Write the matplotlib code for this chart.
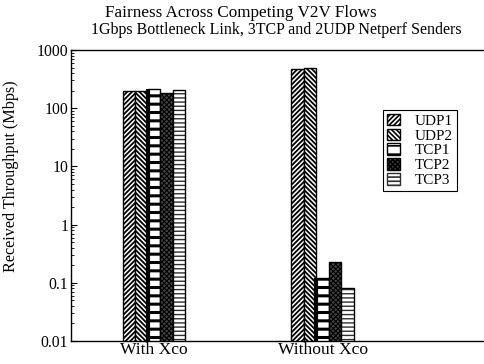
import numpy as np
import matplotlib
matplotlib.use("Agg")
import matplotlib.pyplot as plt
from matplotlib.patches import Patch

plt.rcParams['font.family'] = ['Liberation Serif', 'DejaVu Serif']
plt.rcParams['hatch.linewidth'] = 1.2

# throughput per flow in Mbps
groups = ['With Xco', 'Without Xco']
flows = ['UDP1', 'UDP2', 'TCP1', 'TCP2', 'TCP3']
udp1 = [196, 480]
udp2 = [195, 485]
tcp1 = [212, 0.119]
tcp2 = [181, 0.225]
tcp3 = [205, 0.080]
series = [udp1, udp2, tcp1, tcp2, tcp3]

# fill, hatch colour, hatch pattern, hatch width for each flow
styles = [
    ('white', 'black', '/' * 7, 1.3),
    ('white', 'black', '\\' * 7, 1.3),
    ('white', 'black', '--', 2.2),
    ('#454545', 'black', 'x' * 7, 0.8),
    ('white', '#303030', '-' * 4, 1.0),
]

fig = plt.figure(figsize=(4.84, 3.64), dpi=100)
ax = fig.add_axes([71 / 484, 23 / 364, 420 / 484, 291 / 364])

x = np.arange(len(groups))
w = 0.074
handles = []
for i, vals in enumerate(series):
    fc, hc, hatch, hlw = styles[i]
    pos = x + (i - 2) * w
    # hatch drawn in its own colour, then a black outline on top
    bars = ax.bar(pos, vals, w, color=fc, edgecolor=hc, hatch=hatch, linewidth=0)
    for b in bars:
        if hasattr(b, 'set_hatch_linewidth'):
            b.set_hatch_linewidth(hlw)
    ax.bar(pos, vals, w, fill=False, edgecolor='black', linewidth=1.0)
    h = Patch(facecolor=fc, edgecolor=hc, hatch=hatch, label=flows[i])
    if hasattr(h, 'set_hatch_linewidth'):
        h.set_hatch_linewidth(min(hlw, 1.5))
    handles.append(h)

# TCP1 has a thick left edge on each bar
for i in range(len(groups)):
    xl = x[i] - w / 2
    ax.plot([xl, xl], [0.01, tcp1[i]], color='black', lw=3, solid_capstyle='butt')

ax.set_yscale('log')
ax.set_ylim(0.01, 1000)
ax.set_xlim(-0.494, 2.0)
ax.set_yticks([0.01, 0.1, 1, 10, 100, 1000])
ax.set_yticklabels(['0.01', '0.1', '1', '10', '100', '1000'])
ax.set_xticks(x)
ax.set_xticklabels(groups)
ax.tick_params(axis='y', which='major', direction='in', length=4, labelsize=11.3, pad=2)
ax.tick_params(axis='y', which='minor', direction='in', length=2)
ax.tick_params(axis='x', length=0, labelsize=12.6, pad=1)
ax.spines['right'].set_visible(False)
for s in ['top', 'left', 'bottom']:
    ax.spines[s].set_linewidth(1.0)

ax.set_ylabel('Received Throughput (Mbps)', fontsize=11.6)
ax.yaxis.set_label_coords(-0.124, 0.567)

leg = ax.legend(handles=handles, loc='upper left', bbox_to_anchor=(312 / 420, 0.794),
                fontsize=10.9, handlelength=0.85, handleheight=0.8, handletextpad=1.0,
                labelspacing=0.05, borderpad=0.25, borderaxespad=0, fancybox=False,
                framealpha=1, edgecolor='black')
leg.get_frame().set_linewidth(0.8)

fig.text(241 / 484, 1 - 13 / 364, 'Fairness Across Competing V2V Flows',
         ha='center', va='center', fontsize=12.3)
fig.text(276 / 484, 1 - 30 / 364, '1Gbps Bottleneck Link, 3TCP and 2UDP Netperf Senders',
         ha='center', va='center', fontsize=11.5)

fig.savefig('out.png', dpi=100)
